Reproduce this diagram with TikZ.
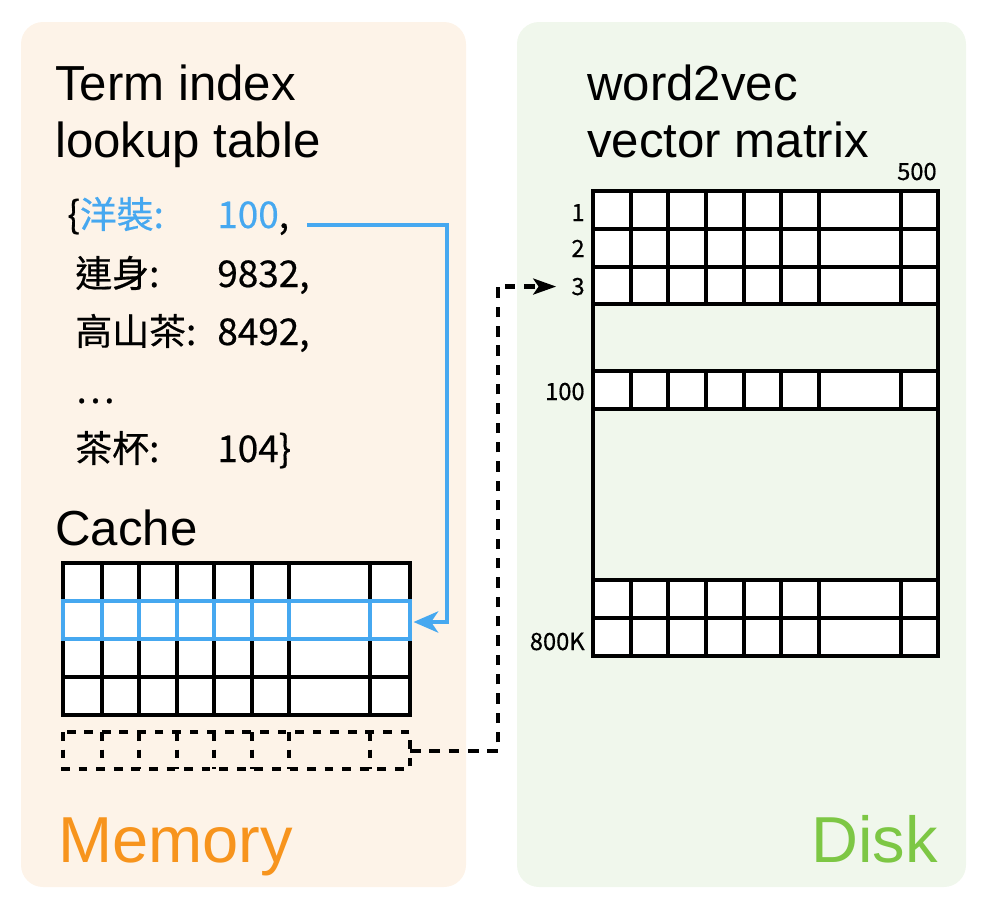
\documentclass[tikz,border=0pt]{standalone}
\usepackage{fontspec}
\setmainfont{Liberation Sans}
\newfontfamily\cjkfont{Noto Sans CJK TC}[FakeBold=0.5]
\usetikzlibrary{arrows.meta,positioning}
\definecolor{memfill}{HTML}{FDF3E8}
\definecolor{diskfill}{HTML}{F0F7EC}
\definecolor{memtext}{HTML}{F7941D}
\definecolor{disktext}{HTML}{7DC744}
\definecolor{hitblue}{HTML}{46A8F0}

\begin{document}
\begin{tikzpicture}[x=0.02cm,y=-0.02cm,
	title/.style={anchor=base west,inner sep=0pt,font=\fontsize{28}{34}\selectfont},
	place/.style={anchor=base west,inner sep=0pt,font=\fontsize{37}{44}\selectfont},
	term/.style={anchor=base west,inner sep=0pt,font=\cjkfont\fontsize{21}{25}\selectfont},
	idx/.style={anchor=base east,inner sep=0pt,font=\cjkfont\fontsize{13.5}{16}\selectfont},
	cell/.style={line width=2.6pt},
	misscell/.style={line width=2.6pt,dash pattern=on 5pt off 5pt},
	hitarrow/.style={hitblue,line width=2.4pt,-{Stealth[length=14pt,width=12pt,inset=4pt]}},
	missarrow/.style={line width=2.4pt,dash pattern=on 6pt off 5pt,-{Stealth[length=13pt,width=9pt,inset=3pt]}}]
	\useasboundingbox (0,0) rectangle (988,910);
	% panels
	\fill[memfill,rounded corners=0.44cm] (21,22) rectangle (466,887);
	\fill[diskfill,rounded corners=0.44cm] (517,22) rectangle (966,887);
	%
	\node[title] (memtitle1) at (55,100) {Term index};
	\node[title] (memtitle2) at (55,157) {lookup table};
	\node[title] (disktitle1) at (587,100) {word2vec};
	\node[title] (disktitle2) at (587,157) {vector matrix};
	\node[title] (cachetitle) at (55,545) {Cache};
	\node[place,memtext] (memory) at (58,862) {Memory};
	\node[place,anchor=base east,disktext] (disk) at (938,862) {Disk};
	% lookup table
	\node[term] (k1) at (67,228) {\{\textcolor{hitblue}{洋裝:}};
	\node[term,hitblue] (v1) at (217,228) {100\textcolor{black}{,}};
	\node[term] (k2) at (75,287) {連身:};
	\node[term] (v2) at (217,287) {9832,};
	\node[term] (k3) at (75,345) {高山茶:};
	\node[term] (v3) at (217,345) {8492,};
	\node[term] (k4) at (75,403) {…};
	\node[term] (k5) at (75,462) {茶杯:};
	\node[term] (v5) at (217,462) {104\}};
	% cache
	\fill[white] (63,563) rectangle (410,715);
	\foreach \ya/\yb in {563/601,601/639,639/677,677/715} {
		\foreach \x in {102,139,177,214,252,289,370}
			\draw[cell] (\x,\ya) -- (\x,\yb);
		\draw[cell] (63,\ya) rectangle (410,\yb);
	}
	\foreach \x in {102,139,177,214,252,289,370}
		\draw[cell,hitblue] (\x,601) -- (\x,639);
	\draw[cell,hitblue] (63,601) rectangle (410,639);
	\coordinate (hitrow) at (410,622);
	% missing row
	\foreach \x in {102,139,177,214,252,289,370}
		\draw[misscell] (\x,732) -- (\x,769);
	\draw[misscell] (63,732) rectangle (410,769);
	\coordinate (missrow) at (410,751);
	% vector matrix
	\foreach \ya/\yb in {191/229,229/267,267/304,371/409,580/618,618/656} {
		\fill[white] (593,\ya) rectangle (938,\yb);
		\foreach \x in {631,668,706,744,781,819,901}
			\draw[cell] (\x,\ya) -- (\x,\yb);
		\draw[cell] (593,\ya) rectangle (938,\yb);
	}
	\draw[cell] (593,191) -- (593,656);
	\draw[cell] (938,191) -- (938,656);
	\node[idx] (cols) at (937,180) {500};
	\node[idx] (r1) at (585,221) {1};
	\node[idx] (r2) at (585,257) {2};
	\node[idx] (r3) at (585,295) {3};
	\node[idx] (r100) at (585,400) {100};
	\node[idx] (rlast) at (585,650) {800K};
	% lookups
	\draw[hitarrow,shorten >=2pt] ([shift={(18,-3)}]v1.base east) -| (447,622) -- (hitrow);
	\draw[missarrow,shorten >=8.5pt] (missrow) -| (498,286) |- (r3.west);
\end{tikzpicture}
\end{document}
